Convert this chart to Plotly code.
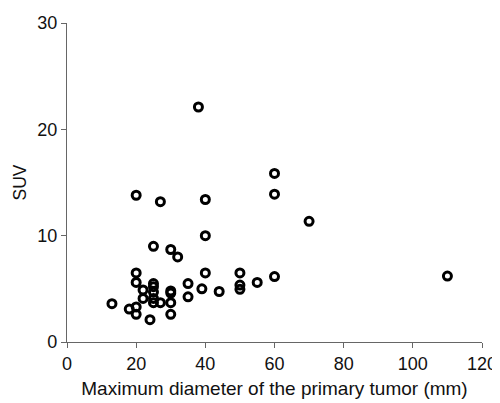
import plotly.graph_objects as go

diameter_mm = [13, 18, 20, 20, 20, 20, 20, 22, 22, 24, 25, 25, 25, 25, 25, 25, 27, 27,
               30, 30, 30, 30, 30, 32, 35, 35, 38, 39, 40, 40, 40, 44, 50, 50, 50, 55,
               60, 60, 60, 70, 110]
suv = [3.6, 3.1, 13.8, 6.5, 5.6, 3.3, 2.6, 4.9, 4.1, 2.1, 9.0, 5.5, 5.2, 4.7, 4.1, 3.7, 13.2, 3.7,
       8.7, 4.8, 4.6, 3.7, 2.6, 8.0, 5.5, 4.25, 22.1, 5.0, 13.4, 10.0, 6.5, 4.75, 6.5, 5.35, 4.95, 5.6,
       15.85, 13.9, 6.15, 11.35, 6.2]

FONT = "Liberation Sans"

fig = go.Figure(go.Scatter(
    x=diameter_mm, y=suv, mode="markers",
    marker=dict(symbol="circle-open", size=8, color="black", line=dict(width=3, color="black")),
))

axis_common = dict(
    showgrid=False, zeroline=False, showline=True, linecolor="#666666", linewidth=1.3,
    ticks="outside", ticklen=5, tickcolor="#666666", tickwidth=1.3, automargin=False,
    tickfont=dict(family=FONT, size=18, color="#111111"),
)
# page body has an 8px default margin, so the figure is sized/offset to compensate
fig.update_layout(
    width=492, height=395,
    margin=dict(l=59, r=18, t=15, b=61),
    plot_bgcolor="white", paper_bgcolor="white",
    font=dict(family=FONT, size=18, color="#111111"),
    showlegend=False,
    xaxis=dict(range=[0, 120], tickvals=[0, 20, 40, 60, 80, 100, 120],
               title=dict(text="Maximum diameter of the primary tumor (mm)", standoff=8,
                          font=dict(family=FONT, size=19, color="#111111")), **axis_common),
    yaxis=dict(range=[0, 30], tickvals=[0, 10, 20, 30],
               title=dict(text="SUV", standoff=6,
                          font=dict(family=FONT, size=17.5, color="#111111")), **axis_common),
)
fig.write_html("out.html")
